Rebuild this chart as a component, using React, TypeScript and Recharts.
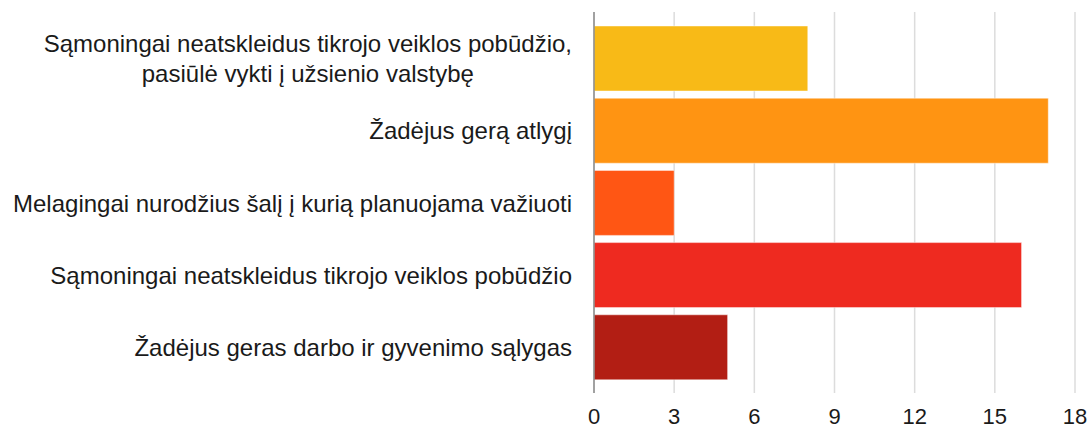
import { Bar, BarChart, CartesianGrid, Cell, XAxis, YAxis } from 'recharts';

const categories: string[] = [
  'Sąmoningai neatskleidus tikrojo veiklos pobūdžio,\npasiūlė vykti į užsienio valstybę',
  'Žadėjus gerą atlygį',
  'Melagingai nurodžius šalį į kurią planuojama važiuoti',
  'Sąmoningai neatskleidus tikrojo veiklos pobūdžio',
  'Žadėjus geras darbo ir gyvenimo sąlygas',
];

const counts: number[] = [8, 17, 3, 16, 5];

const barColors: string[] = ['#F8BA17', '#FF9412', '#FF5614', '#EE2A20', '#B21E14'];

const xTicks: number[] = [0, 3, 6, 9, 12, 15, 18];

const data = categories.map((label, i) => ({ label, value: counts[i] }));

const FONT = '"Liberation Sans", Arial, Helvetica, sans-serif';
const LABEL_SIZE = 24;
const TICK_SIZE = 22;

let ctx: CanvasRenderingContext2D | null = null;
function measure(text: string) {
  if (!ctx) ctx = document.createElement('canvas').getContext('2d');
  if (!ctx) return text.length * 12;
  ctx.font = `${LABEL_SIZE}px ${FONT}`;
  return ctx.measureText(text).width;
}

// right edge of the label text sits ~22px left of the axis line
function CategoryTick({ x, y, payload }: any) {
  const lines: string[] = String(payload.value).split('\n');
  const right = x - 14;
  const widest = Math.max(...lines.map(measure));
  const center = right - widest / 2;
  const lineHeight = 30;
  const top = y - ((lines.length - 1) * lineHeight) / 2;
  return (
    <text fill="#1a1a1a" fontFamily={FONT} fontSize={LABEL_SIZE} textAnchor="middle" dominantBaseline="central">
      {lines.map((line, i) => (
        <tspan key={i} x={center} y={top + i * lineHeight}>
          {line}
        </tspan>
      ))}
    </text>
  );
}

export default function App() {
  return (
    <div style={{ position: 'absolute', left: 0, top: 0, background: '#fff' }}>
      <BarChart
        width={1091}
        height={435}
        data={data}
        layout="vertical"
        margin={{ top: 12, right: 16, left: 0, bottom: 0 }}
        barSize={65}
      >
        <CartesianGrid horizontal={false} stroke="#dcdcdc" strokeWidth={1.5} />
        <XAxis
          type="number"
          domain={[0, 18]}
          ticks={xTicks}
          axisLine={false}
          tickLine={false}
          height={42}
          tick={{ fill: '#1a1a1a', fontSize: TICK_SIZE, fontFamily: FONT }}
          tickMargin={9}
          interval={0}
        />
        <YAxis
          type="category"
          dataKey="label"
          width={594}
          padding={{ top: 10, bottom: 10 }}
          axisLine={{ stroke: '#8a8a8a', strokeWidth: 1.5 }}
          tickLine={false}
          tick={<CategoryTick />}
          interval={0}
        />
        <Bar dataKey="value" isAnimationActive={false} stroke="#ffffff" strokeOpacity={0.45} strokeWidth={1}>
          {data.map((_, i) => (
            <Cell key={i} fill={barColors[i]} />
          ))}
        </Bar>
      </BarChart>
    </div>
  );
}
